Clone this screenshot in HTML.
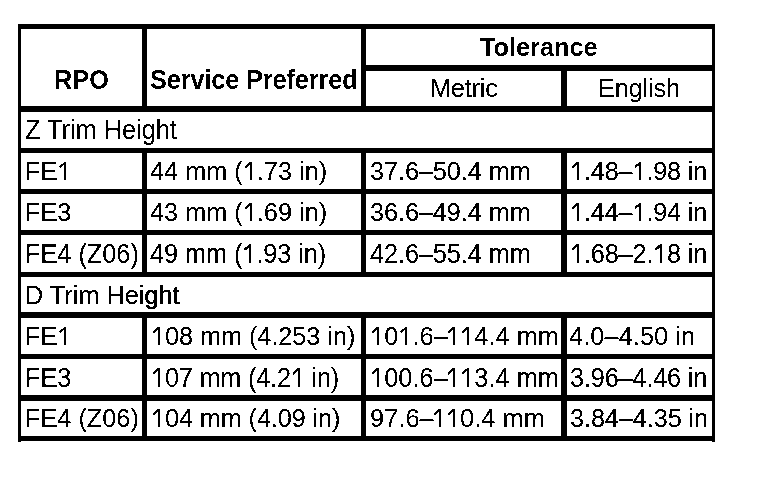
<!DOCTYPE html><html><head><meta charset="utf-8"><style>
html,body{margin:0;padding:0;background:#fff;width:768px;height:484px;overflow:hidden;position:relative}
.l{position:absolute;background:#000}
.t{position:absolute;font-family:"Liberation Sans",sans-serif;font-size:25.3px;line-height:40px;height:40px;white-space:nowrap;color:#000;-webkit-text-stroke:0.1px #000}
.b{font-weight:700;-webkit-text-stroke:0}
.one{position:relative;color:transparent;-webkit-text-stroke-color:transparent}
.k{margin-left:-1.88px}
.be{-webkit-text-stroke:0.6px #000}
.one::before{content:"";position:absolute;left:7px;top:5px;width:2px;height:18px;background:#000}
.one::after{content:"";position:absolute;left:0;top:5px;width:9px;height:8px;background:#000;clip-path:polygon(2px 4.2px,7px 0,7px 2.8px,2.6px 6.6px)}
#w{position:absolute;left:0;top:0;width:768px;height:484px;background:#fff;filter:url(#th)}
</style></head><body>
<svg width="0" height="0" style="position:absolute"><filter id="th" x="0" y="0" width="100%" height="100%" color-interpolation-filters="sRGB"><feColorMatrix type="saturate" values="0"/><feComponentTransfer><feFuncR type="discrete" tableValues="0 1"/><feFuncG type="discrete" tableValues="0 1"/><feFuncB type="discrete" tableValues="0 1"/></feComponentTransfer></filter></svg>
<div id="w">
<div class="l" style="left:18px;top:24px;width:697px;height:5px"></div>
<div class="l" style="left:361px;top:65px;width:354px;height:6px"></div>
<div class="l" style="left:18px;top:106px;width:697px;height:6px"></div>
<div class="l" style="left:18px;top:148px;width:697px;height:5px"></div>
<div class="l" style="left:18px;top:189px;width:697px;height:5px"></div>
<div class="l" style="left:18px;top:230px;width:697px;height:5px"></div>
<div class="l" style="left:18px;top:272px;width:697px;height:5px"></div>
<div class="l" style="left:18px;top:312px;width:697px;height:6px"></div>
<div class="l" style="left:18px;top:354px;width:697px;height:5px"></div>
<div class="l" style="left:18px;top:395px;width:697px;height:6px"></div>
<div class="l" style="left:18px;top:436px;width:697px;height:5px"></div>
<div class="l" style="left:18px;top:24px;width:3px;height:418px"></div>
<div class="l" style="left:712px;top:24px;width:3px;height:418px"></div>
<div class="l" style="left:142px;top:24px;width:5px;height:88px"></div>
<div class="l" style="left:361px;top:24px;width:5px;height:88px"></div>
<div class="l" style="left:561px;top:65px;width:6px;height:47px"></div>
<div class="l" style="left:142px;top:148px;width:5px;height:129px"></div>
<div class="l" style="left:361px;top:148px;width:5px;height:129px"></div>
<div class="l" style="left:561px;top:148px;width:6px;height:129px"></div>
<div class="l" style="left:142px;top:312px;width:5px;height:129px"></div>
<div class="l" style="left:361px;top:312px;width:5px;height:129px"></div>
<div class="l" style="left:561px;top:312px;width:6px;height:129px"></div>
<div class="t b" style="left:54px;top:59px;transform:scaleY(1.07);transform-origin:0 11.4px;">RPO</div>
<div class="t b" style="left:150px;top:59px;letter-spacing:-0.12px;transform:scaleY(1.07);transform-origin:0 11.4px;">Service Preferred</div>
<div class="t b" style="left:480px;top:27px;">Tolerance</div>
<div class="t" style="left:430px;top:68px;letter-spacing:-0.2px">Metric</div>
<div class="t" style="left:598px;top:68px;letter-spacing:-0.15px">English</div>
<div class="t" style="left:25px;top:109px;transform:scaleY(1.07);transform-origin:0 11.4px;">Z Trim Height</div>
<div class="t" style="left:25px;top:275px;">D Trim Hei<span class="be">ght</span></div>
<div class="t" style="left:25px;top:151px;">F<span class="be">E</span><span class="one">1</span></div>
<div class="t" style="left:150px;top:151px;">44 mm (<span class="one">1</span>.73 in)</div>
<div class="t" style="left:370px;top:151px;letter-spacing:-0.09px;">37.6–50.4 mm</div>
<div class="t" style="left:570px;top:151px;letter-spacing:-0.18px;"><span class="one">1</span>.48–<span class="one">1</span>.98 in</div>
<div class="t" style="left:25px;top:192px;">F<span class="be">E</span>3</div>
<div class="t" style="left:150px;top:192px;">43 mm (<span class="one">1</span>.69 in)</div>
<div class="t" style="left:370px;top:192px;letter-spacing:-0.09px;">36.6–49.4 mm</div>
<div class="t" style="left:570px;top:192px;letter-spacing:-0.18px;"><span class="one">1</span>.44–<span class="one">1</span>.94 in</div>
<div class="t" style="left:25px;top:233px;transform:scaleY(1.07);transform-origin:0 11.4px;">F<span class="be">E</span>4 (Z06)</div>
<div class="t" style="left:150px;top:233px;letter-spacing:-0.07px;transform:scaleY(1.07);transform-origin:0 11.4px;">49 mm (<span class="one">1</span>.93 in)</div>
<div class="t" style="left:370px;top:233px;letter-spacing:-0.09px;transform:scaleY(1.07);transform-origin:0 11.4px;">42.6–55.4 mm</div>
<div class="t" style="left:570px;top:233px;letter-spacing:-0.18px;transform:scaleY(1.07);transform-origin:0 11.4px;"><span class="one">1</span>.68–2.<span class="one">1</span>8 in</div>
<div class="t" style="left:25px;top:316px;">F<span class="be">E</span><span class="one">1</span></div>
<div class="t" style="left:151px;top:316px;letter-spacing:-0.06px;"><span class="one">1</span>08 mm (4.253 in)</div>
<div class="t" style="left:370px;top:316px;letter-spacing:0.07px;"><span class="one">1</span>0<span class="one">1</span>.6–<span class="one k">1</span><span class="one">1</span>4.4 mm</div>
<div class="t" style="left:569px;top:316px;letter-spacing:0.1px;">4.0–4.50 in</div>
<div class="t" style="left:25px;top:357px;transform:scaleY(1.07);transform-origin:0 11.4px;">F<span class="be">E</span>3</div>
<div class="t" style="left:151px;top:357px;letter-spacing:-0.2px;transform:scaleY(1.07);transform-origin:0 11.4px;"><span class="one">1</span>07 mm (4.2<span class="one">1</span> in)</div>
<div class="t" style="left:370px;top:357px;letter-spacing:0.07px;transform:scaleY(1.07);transform-origin:0 11.4px;"><span class="one">1</span>00.6–<span class="one k">1</span><span class="one">1</span>3.4 mm</div>
<div class="t" style="left:570px;top:357px;letter-spacing:-0.18px;transform:scaleY(1.07);transform-origin:0 11.4px;">3.96–4.46 in</div>
<div class="t" style="left:25px;top:398px;">F<span class="be">E</span>4 (Z06)</div>
<div class="t" style="left:151px;top:398px;letter-spacing:-0.12px;"><span class="one">1</span>04 mm (4.09 in)</div>
<div class="t" style="left:370px;top:398px;letter-spacing:0.07px;">97.6–<span class="one k">1</span><span class="one">1</span>0.4 mm</div>
<div class="t" style="left:570px;top:398px;letter-spacing:-0.1px;">3.84–4.35 in</div>
</div></body></html>
